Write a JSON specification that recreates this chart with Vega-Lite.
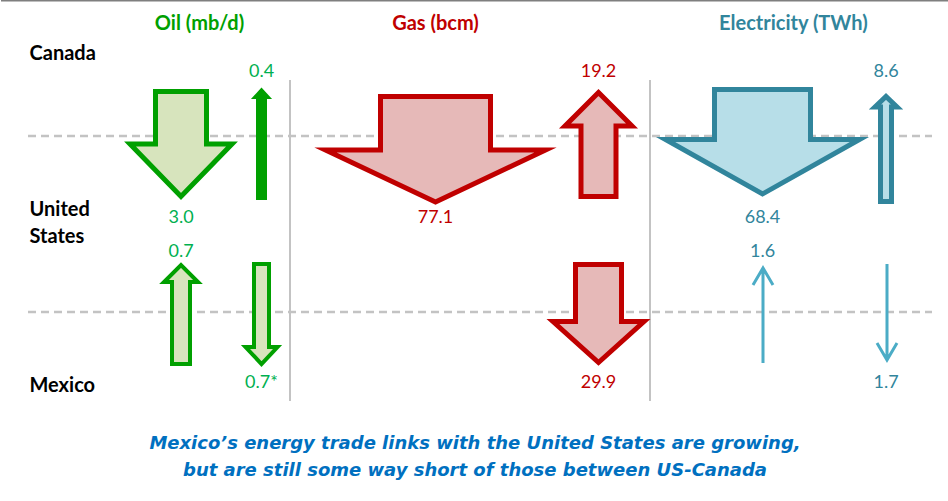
{
  "$schema": "https://vega.github.io/schema/vega-lite/v6.json",
  "width": 948,
  "height": 430,
  "padding": {"left": 0, "top": 0, "right": 0, "bottom": 12},
  "autosize": {"type": "pad"},
  "background": "white",
  "config": {"view": {"stroke": null}},
  "title": {
    "text": ["Mexico’s energy trade links with the United States are growing,", "but are still some way short of those between US-Canada"],
    "orient": "bottom", "anchor": "middle", "frame": "group", "offset": 5,
    "font": "DejaVu Sans", "fontSize": 18, "fontStyle": "italic", "fontWeight": "bold",
    "color": "#0070c0", "lineHeight": 27
  },
  "datasets": {
    "flows": [
      {"commodity": "Oil", "flow": "Oil: Canada → US", "value": 3.0, "label": "3.0", "lane": 1, "tier": 1, "labelTier": 1.5},
      {"commodity": "Oil", "flow": "Oil: US → Canada", "value": 0.4, "label": "0.4", "lane": 2, "tier": 1, "labelTier": 0.5},
      {"commodity": "Gas", "flow": "Gas: Canada → US", "value": 77.1, "label": "77.1", "lane": 3, "tier": 1, "labelTier": 1.5},
      {"commodity": "Gas", "flow": "Gas: US → Canada", "value": 19.2, "label": "19.2", "lane": 4, "tier": 1, "labelTier": 0.5},
      {"commodity": "Electricity", "flow": "Electricity: Canada → US", "value": 68.4, "label": "68.4", "lane": 5, "tier": 1, "labelTier": 1.5},
      {"commodity": "Electricity", "flow": "Electricity: US → Canada", "value": 8.6, "label": "8.6", "lane": 6, "tier": 1, "labelTier": 0.5},
      {"commodity": "Oil", "flow": "Oil: Mexico → US", "value": 0.7, "label": "0.7", "lane": 1, "tier": 3, "labelTier": 2.5},
      {"commodity": "Oil", "flow": "Oil: US → Mexico", "value": 0.7, "label": "0.7*", "lane": 2, "tier": 3, "labelTier": 3.5},
      {"commodity": "Gas", "flow": "Gas: US → Mexico", "value": 29.9, "label": "29.9", "lane": 4, "tier": 3, "labelTier": 3.5},
      {"commodity": "Electricity", "flow": "Electricity: Mexico → US", "value": 1.6, "label": "1.6", "lane": 5, "tier": 3, "labelTier": 2.5},
      {"commodity": "Electricity", "flow": "Electricity: US → Mexico", "value": 1.7, "label": "1.7", "lane": 6, "tier": 3, "labelTier": 3.5}
    ],
    "columns": [
      {"commodity": "Oil", "title": "Oil (mb/d)", "lane": 1.23},
      {"commodity": "Gas", "title": "Gas (bcm)", "lane": 3},
      {"commodity": "Electricity", "title": "Electricity  (TWh)", "lane": 5.25}
    ],
    "countries": [
      {"country": "Canada", "tier": 0},
      {"country": "United States", "tier": 2},
      {"country": "Mexico", "tier": 4}
    ],
    "borders": [
      {"border": "Canada–US", "tier": 1},
      {"border": "US–Mexico", "tier": 3}
    ],
    "separators": [
      {"between": "Oil | Gas", "lane": 2.5},
      {"between": "Gas | Electricity", "lane": 4.5}
    ],
    "frame": [{"edge": "top"}]
  },
  "resolve": {"scale": {"color": "independent"}},
  "layer": [
    {
      "data": {"name": "frame"},
      "mark": {"type": "rule", "color": "#7f7f7f", "strokeWidth": 1.5},
      "encoding": {
        "x": {"datum": -1, "type": "quantitative", "axis": null, "scale": {"domain": [-1, 0, 1, 2, 2.5, 3, 4, 4.5, 5, 6, 7, 8], "range": [0, 27, 180, 260.5, 289, 434.5, 597.5, 649, 761.5, 885, 931, 948], "nice": false, "zero": false}},
        "x2": {"datum": 8},
        "y": {"datum": -2, "type": "quantitative", "axis": null, "scale": {"domain": [-2, -1, 0, 0.5, 1, 1.5, 2, 2.5, 3, 3.5, 4], "range": [0.75, 24, 67.5, 72, 136, 218, 223.5, 252, 312, 383, 399.5], "nice": false, "zero": false}}
      }
    },
    {
      "data": {"name": "borders"},
      "mark": {"type": "rule", "color": "#c3c3c3", "strokeWidth": 2.5, "strokeDash": [8, 5]},
      "encoding": {
        "x": {"datum": 0, "type": "quantitative", "axis": null, "scale": {"domain": [-1, 0, 1, 2, 2.5, 3, 4, 4.5, 5, 6, 7, 8], "range": [0, 27, 180, 260.5, 289, 434.5, 597.5, 649, 761.5, 885, 931, 948], "nice": false, "zero": false}},
        "x2": {"datum": 7},
        "y": {"field": "tier", "type": "quantitative", "axis": null, "scale": {"domain": [-2, -1, 0, 0.5, 1, 1.5, 2, 2.5, 3, 3.5, 4], "range": [0.75, 24, 67.5, 72, 136, 218, 223.5, 252, 312, 383, 399.5], "nice": false, "zero": false}}
      }
    },
    {
      "data": {"name": "separators"},
      "mark": {"type": "rule", "color": "#c3c3c3", "strokeWidth": 2, "yOffset": 8, "y2Offset": 1.5},
      "encoding": {
        "x": {"field": "lane", "type": "quantitative", "axis": null, "scale": {"domain": [-1, 0, 1, 2, 2.5, 3, 4, 4.5, 5, 6, 7, 8], "range": [0, 27, 180, 260.5, 289, 434.5, 597.5, 649, 761.5, 885, 931, 948], "nice": false, "zero": false}},
        "y": {"datum": 0.5, "type": "quantitative", "axis": null, "scale": {"domain": [-2, -1, 0, 0.5, 1, 1.5, 2, 2.5, 3, 3.5, 4], "range": [0.75, 24, 67.5, 72, 136, 218, 223.5, 252, 312, 383, 399.5], "nice": false, "zero": false}},
        "y2": {"datum": 4}
      }
    },
    {
      "data": {"name": "flows"},
      "transform": [{"filter": {"field": "flow", "oneOf": ["Oil: Canada → US", "Gas: Canada → US", "Gas: US → Canada", "Electricity: Canada → US", "Electricity: US → Canada", "Gas: US → Mexico"]}}],
      "mark": {"type": "point", "filled": true, "size": 4, "opacity": 1, "strokeWidth": 5, "strokeMiterLimit": 10},
      "encoding": {
        "x": {"field": "lane", "type": "quantitative", "axis": null, "scale": {"domain": [-1, 0, 1, 2, 2.5, 3, 4, 4.5, 5, 6, 7, 8], "range": [0, 27, 180, 260.5, 289, 434.5, 597.5, 649, 761.5, 885, 931, 948], "nice": false, "zero": false}},
        "y": {"field": "tier", "type": "quantitative", "axis": null, "scale": {"domain": [-2, -1, 0, 0.5, 1, 1.5, 2, 2.5, 3, 3.5, 4], "range": [0.75, 24, 67.5, 72, 136, 218, 223.5, 252, 312, 383, 399.5], "nice": false, "zero": false}},
        "shape": {"field": "flow", "type": "nominal", "legend": null, "scale": {
          "domain": ["Oil: Canada → US", "Oil: US → Canada", "Gas: Canada → US", "Gas: US → Canada", "Electricity: Canada → US", "Electricity: US → Canada", "Oil: Mexico → US", "Oil: US → Mexico", "Gas: US → Mexico", "Electricity: Mexico → US", "Electricity: US → Mexico"],
          "range": [
            "M -25.5 -44.5 L 25.5 -44.5 L 25.5 8 L 51 8 L 0 60.5 L -51 8 L -25.5 8 Z",
            "M -3.5 62 L 3.5 62 L 3.5 -39 L 6 -39 L 0 -45.5 L -6 -39 L -3.5 -39 Z",
            "M -55 -39.5 L 55 -39.5 L 55 14 L 110 14 L 0 66 L -110 14 L -55 14 Z",
            "M -17.5 60.5 L 17.5 60.5 L 17.5 -10 L 33.5 -10 L 0 -43.5 L -33.5 -10 L -17.5 -10 Z",
            "M -48 -46.5 L 48 -46.5 L 48 3.5 L 97 3.5 L 0 58 L -97 3.5 L -48 3.5 Z",
            "M -5.5 65.5 L 5.5 65.5 L 5.5 -29 L 11 -29 L 0 -39.5 L -11 -29 L -5.5 -29 Z",
            "M -9 52 L 9 52 L 9 -30 L 17 -30 L 0 -47 L -17 -30 L -9 -30 Z",
            "M -7.5 -48 L 7.5 -48 L 7.5 35 L 16 35 L 0 52 L -16 35 L -7.5 35 Z",
            "M -23 -47.5 L 23 -47.5 L 23 9.5 L 45.5 9.5 L 0 50.5 L -45.5 9.5 L -23 9.5 Z",
            "M 0.5 51 L 0.5 -44 M -9.5 -27 L 0.5 -44 L 10.5 -27",
            "M 1 -48 L 1 48 M -9 31 L 1 48 L 11 31"
          ]}},
        "fill": {"field": "flow", "type": "nominal", "legend": null, "scale": {
          "domain": ["Oil: Canada → US", "Oil: US → Canada", "Gas: Canada → US", "Gas: US → Canada", "Electricity: Canada → US", "Electricity: US → Canada", "Oil: Mexico → US", "Oil: US → Mexico", "Gas: US → Mexico", "Electricity: Mexico → US", "Electricity: US → Mexico"],
          "range": ["#d7e4bd", "#00a000", "#e6b9b8", "#e6b9b8", "#b7dee8", "#b7dee8", "#d7e4bd", "#d7e4bd", "#e6b9b8", "transparent", "transparent"]}},
        "stroke": {"field": "flow", "type": "nominal", "legend": null, "scale": {
          "domain": ["Oil: Canada → US", "Oil: US → Canada", "Gas: Canada → US", "Gas: US → Canada", "Electricity: Canada → US", "Electricity: US → Canada", "Oil: Mexico → US", "Oil: US → Mexico", "Gas: US → Mexico", "Electricity: Mexico → US", "Electricity: US → Mexico"],
          "range": ["#00a000", "#00a000", "#c00000", "#c00000", "#31859c", "#31859c", "#00a000", "#00a000", "#c00000", "#4bacc6", "#4bacc6"]}}
      }
    },
    {
      "data": {"name": "flows"},
      "transform": [{"filter": {"field": "flow", "oneOf": ["Oil: US → Canada", "Oil: Mexico → US", "Oil: US → Mexico"]}}],
      "mark": {"type": "point", "filled": true, "size": 4, "opacity": 1, "strokeWidth": 4, "strokeMiterLimit": 10},
      "encoding": {
        "x": {"field": "lane", "type": "quantitative", "axis": null, "scale": {"domain": [-1, 0, 1, 2, 2.5, 3, 4, 4.5, 5, 6, 7, 8], "range": [0, 27, 180, 260.5, 289, 434.5, 597.5, 649, 761.5, 885, 931, 948], "nice": false, "zero": false}},
        "y": {"field": "tier", "type": "quantitative", "axis": null, "scale": {"domain": [-2, -1, 0, 0.5, 1, 1.5, 2, 2.5, 3, 3.5, 4], "range": [0.75, 24, 67.5, 72, 136, 218, 223.5, 252, 312, 383, 399.5], "nice": false, "zero": false}},
        "shape": {"field": "flow", "type": "nominal", "legend": null},
        "fill": {"field": "flow", "type": "nominal", "legend": null},
        "stroke": {"field": "flow", "type": "nominal", "legend": null}
      }
    },
    {
      "data": {"name": "flows"},
      "transform": [{"filter": {"field": "flow", "oneOf": ["Electricity: Mexico → US", "Electricity: US → Mexico"]}}],
      "mark": {"type": "point", "filled": true, "size": 4, "opacity": 1, "strokeWidth": 3},
      "encoding": {
        "x": {"field": "lane", "type": "quantitative", "axis": null, "scale": {"domain": [-1, 0, 1, 2, 2.5, 3, 4, 4.5, 5, 6, 7, 8], "range": [0, 27, 180, 260.5, 289, 434.5, 597.5, 649, 761.5, 885, 931, 948], "nice": false, "zero": false}},
        "y": {"field": "tier", "type": "quantitative", "axis": null, "scale": {"domain": [-2, -1, 0, 0.5, 1, 1.5, 2, 2.5, 3, 3.5, 4], "range": [0.75, 24, 67.5, 72, 136, 218, 223.5, 252, 312, 383, 399.5], "nice": false, "zero": false}},
        "shape": {"field": "flow", "type": "nominal", "legend": null},
        "fill": {"field": "flow", "type": "nominal", "legend": null},
        "stroke": {"field": "flow", "type": "nominal", "legend": null}
      }
    },
    {
      "data": {"name": "flows"},
      "mark": {"type": "text", "font": "Lato", "fontSize": 18, "align": "center", "baseline": "middle"},
      "encoding": {
        "x": {"field": "lane", "type": "quantitative", "axis": null, "scale": {"domain": [-1, 0, 1, 2, 2.5, 3, 4, 4.5, 5, 6, 7, 8], "range": [0, 27, 180, 260.5, 289, 434.5, 597.5, 649, 761.5, 885, 931, 948], "nice": false, "zero": false}},
        "y": {"field": "labelTier", "type": "quantitative", "axis": null, "scale": {"domain": [-2, -1, 0, 0.5, 1, 1.5, 2, 2.5, 3, 3.5, 4], "range": [0.75, 24, 67.5, 72, 136, 218, 223.5, 252, 312, 383, 399.5], "nice": false, "zero": false}},
        "text": {"field": "label", "type": "nominal"},
        "color": {"field": "commodity", "type": "nominal", "legend": null, "scale": {"domain": ["Oil", "Gas", "Electricity"], "range": ["#00b050", "#c00000", "#31859c"]}}
      }
    },
    {
      "data": {"name": "columns"},
      "mark": {"type": "text", "font": "Lato", "fontSize": 20, "fontWeight": "bold", "align": "center", "baseline": "middle"},
      "encoding": {
        "x": {"field": "lane", "type": "quantitative", "axis": null, "scale": {"domain": [-1, 0, 1, 2, 2.5, 3, 4, 4.5, 5, 6, 7, 8], "range": [0, 27, 180, 260.5, 289, 434.5, 597.5, 649, 761.5, 885, 931, 948], "nice": false, "zero": false}},
        "y": {"datum": -1, "type": "quantitative", "axis": null, "scale": {"domain": [-2, -1, 0, 0.5, 1, 1.5, 2, 2.5, 3, 3.5, 4], "range": [0.75, 24, 67.5, 72, 136, 218, 223.5, 252, 312, 383, 399.5], "nice": false, "zero": false}},
        "text": {"field": "title", "type": "nominal"},
        "color": {"field": "commodity", "type": "nominal", "legend": null, "scale": {"domain": ["Oil", "Gas", "Electricity"], "range": ["#00a000", "#c00000", "#31859c"]}}
      }
    },
    {
      "data": {"name": "countries"},
      "mark": {"type": "text", "font": "Lato", "fontSize": 20, "fontWeight": "bold", "align": "left", "baseline": "middle", "dx": 1.5, "dy": -13.5, "lineBreak": " ", "lineHeight": 27, "color": "#000000"},
      "encoding": {
        "x": {"datum": 0, "type": "quantitative", "axis": null, "scale": {"domain": [-1, 0, 1, 2, 2.5, 3, 4, 4.5, 5, 6, 7, 8], "range": [0, 27, 180, 260.5, 289, 434.5, 597.5, 649, 761.5, 885, 931, 948], "nice": false, "zero": false}},
        "y": {"field": "tier", "type": "quantitative", "axis": null, "scale": {"domain": [-2, -1, 0, 0.5, 1, 1.5, 2, 2.5, 3, 3.5, 4], "range": [0.75, 24, 67.5, 72, 136, 218, 223.5, 252, 312, 383, 399.5], "nice": false, "zero": false}},
        "text": {"field": "country", "type": "nominal"}
      }
    }
  ]
}
